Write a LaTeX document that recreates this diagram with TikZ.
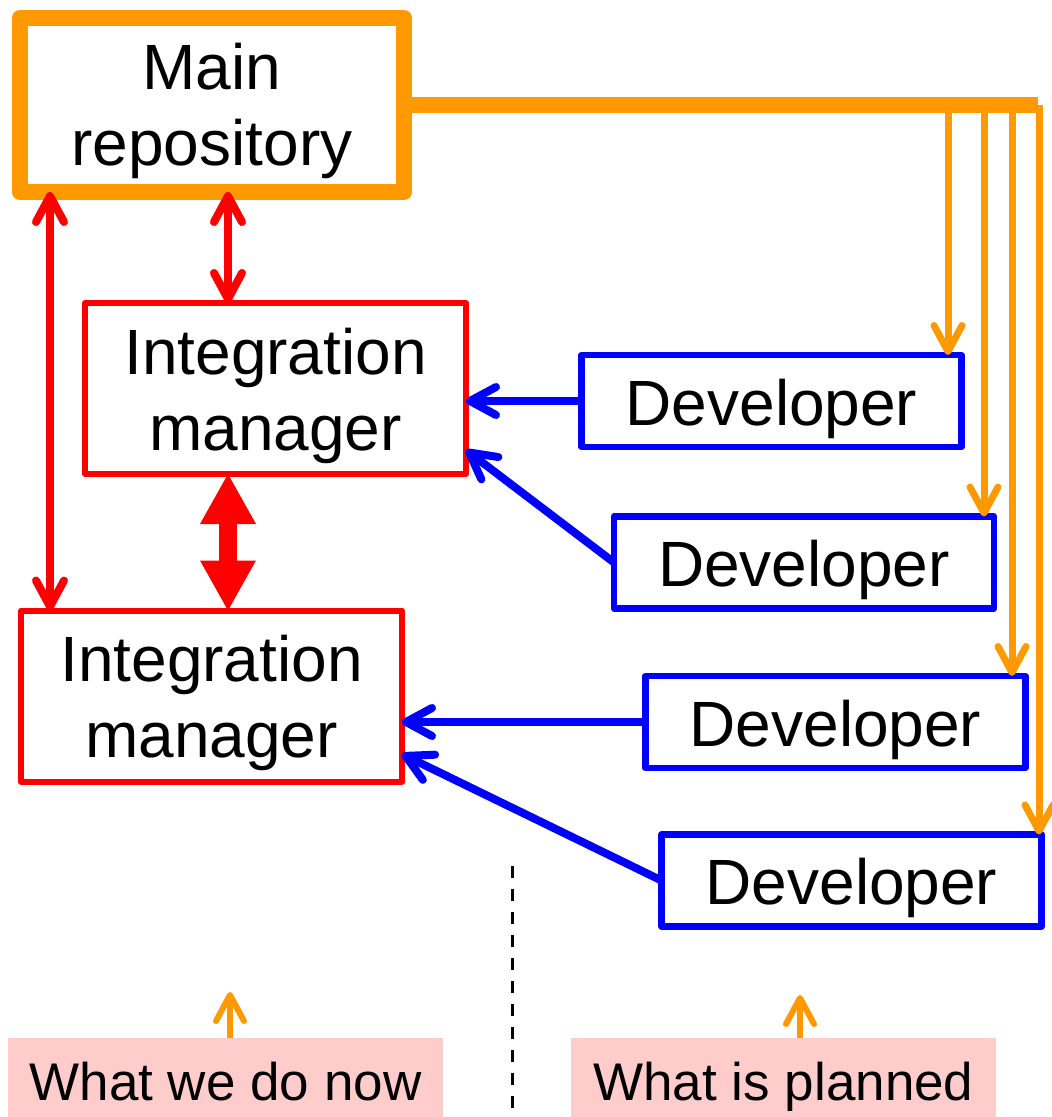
\documentclass[tikz,border=0pt]{standalone}
\usepackage{fontspec}
\setmainfont{Liberation Sans}
\usetikzlibrary{arrows.meta,calc}
\definecolor{repoorange}{HTML}{FF9900}
\definecolor{mgrred}{HTML}{FF0000}
\definecolor{devblue}{HTML}{0000FF}
\definecolor{notepink}{HTML}{FFCCCC}
\tikzset{
  box/.style={rectangle, draw, outer sep=0pt, inner sep=0pt, align=center,
    line join=round, font=\fontsize{64}{76}\selectfont},
  repobox/.style={box, draw=repoorange, line width=16pt,
    minimum width=384pt, minimum height=174pt},
  mgrbox/.style={box, draw=mgrred, line width=6pt,
    minimum width=381pt, minimum height=171pt},
  devbox/.style={box, draw=devblue, line width=6.5pt,
    minimum width=380pt, minimum height=92pt, text height=61pt, text depth=13pt},
  notebox/.style={rectangle, fill=notepink, inner sep=0pt, minimum height=79pt,
    text height=45pt, text depth=0pt, font=\fontsize{53}{60}\selectfont},
  barbtip/.tip={Straight Barb[length=26pt,width=28pt,round]},
  bus/.style={draw=repoorange, line width=16pt},
  feed/.style={draw=repoorange, line width=7pt, -barbtip},
  sync/.style={draw=mgrred, line width=8pt, barbtip-barbtip},
  fatsync/.style={draw=mgrred, line width=18pt,
    {Triangle[length=50pt,width=56pt,line width=0pt]}-{Triangle[length=50pt,width=56pt,line width=0pt]}},
  push/.style={draw=devblue, line width=8pt, -barbtip},
  divider/.style={draw=black, line width=3pt, dash pattern=on 12pt off 11pt},
}
\begin{document}
\begin{tikzpicture}[x=1pt, y=-1pt]
\useasboundingbox (0,0) rectangle (1052,1117);

% repositories and people
\node[repobox] (main) at (212,105) {\rule{0pt}{59pt}Main\\repository};
\node[mgrbox] (im1) at (275.5,388.5) {\rule{0pt}{62pt}Integration\\manager};
\node[mgrbox] (im2) at (211.5,696) {\rule{0pt}{61pt}Integration\\manager};
\node[devbox] (dev1) at (771.5,401) {Developer};
\node[devbox] (dev2) at (804,562.5) {Developer};
\node[devbox] (dev3) at (835.5,722) {Developer};
\node[devbox] (dev4) at (851.5,880.5) {Developer};

% captions
\node[notebox, minimum width=435pt] (now) at (225.5,1077.5) {What we do now};
\node[notebox, minimum width=425pt] (plan) at (783.5,1077.5) {What is planned};

% distribution bus from the main repository
\coordinate (busend) at (1038,105);
\coordinate (tapA) at (948,105);
\coordinate (tapB) at (984,105);
\coordinate (tapC) at (1012,105);
\coordinate (tapD) at (1039,105);
\draw[bus] (main.east) -- (busend);
\draw[feed] (tapA) -- (tapA |- dev1.north);
\draw[feed] (tapB) -- (tapB |- dev2.north);
\draw[feed] (tapC) -- (tapC |- dev3.north);
\draw[feed] (tapD) -- (tapD |- dev4.north);

% exchanges between repository and managers
\draw[sync] (50,0 |- main.south) -- (50,0 |- im2.north);
\draw[sync] (228,0 |- main.south) -- (228,0 |- im1.north);
\draw[fatsync] (228,0 |- im1.south) -- (228,0 |- im2.north);

% developers pushing to managers
\draw[push] (dev1.west) -- (im1.east |- dev1.west);
\draw[push] (dev2.west) -- ($(im1.south east)!0.14!(im1.north east)$);
\draw[push] (dev3.west) -- (im2.east |- dev3.west);
\draw[push] (dev4.west) -- ($(im2.south east)!0.16!(im2.north east)$);

% divider and caption pointers
\coordinate (splitA) at (512,866);
\coordinate (splitB) at (512,1112);
\draw[divider] (splitA) -- (splitB);
\coordinate (nowtip) at (230,992);
\coordinate (plantip) at (800,995);
\draw[feed, line width=6pt] (now.north -| nowtip) -- (nowtip);
\draw[feed, line width=6pt] (plan.north -| plantip) -- (plantip);
\end{tikzpicture}
\end{document}
